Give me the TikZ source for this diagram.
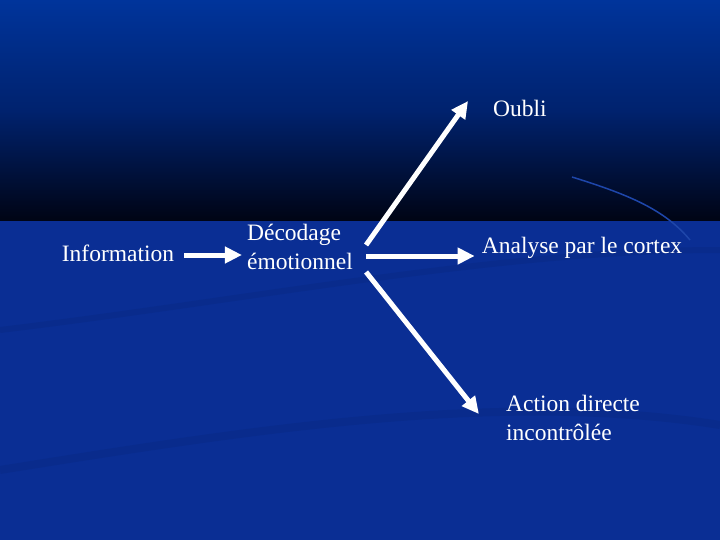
\documentclass[tikz,border=0pt]{standalone}
\usepackage{fontspec}
\setmainfont{Liberation Serif}
\usetikzlibrary{arrows.meta}
\definecolor{fondhaut}{RGB}{0,52,155}
\definecolor{fondmilieu}{RGB}{0,34,110}
\definecolor{fondnoir}{RGB}{0,4,20}
\definecolor{fondbas}{RGB}{10,46,148}
\definecolor{vague}{RGB}{30,70,170}
\tikzset{
  texte/.style={text=white, inner sep=0pt, font=\fontsize{23.5}{29}\selectfont},
  fleche/.style={draw=white, line width=5pt, -{Triangle[length=17pt,width=16pt]}}
}
\begin{document}
\begin{tikzpicture}[x=1pt, y=-1pt]
  \useasboundingbox (0,0) rectangle (720,540);
  % fond
  \shade[top color=fondhaut, bottom color=fondnoir, middle color=fondmilieu] (0,0) rectangle (720,221);
  \fill[fondbas] (0,221) rectangle (720,540);
  \draw[fondbas!85!black, line width=6pt, opacity=0.35] (0,330) .. controls (250,300) and (500,250) .. (720,250);
  \draw[fondbas!85!black, line width=8pt, opacity=0.35] (0,470) .. controls (250,430) and (500,390) .. (720,425);
  \draw[vague, line width=1.5pt] (572,177) .. controls (630,195) and (665,210) .. (690,240);

  % noeuds
  \node[texte] (info) at (118,253) {Information};
  \node[texte, align=left] (dec) at (300,247) {Décodage\\émotionnel};
  \node[texte] (oubli) at (520,108) {Oubli};
  \node[texte] (analyse) at (582,248) {Analyse par le cortex};
  \node[texte, align=left] (action) at (573,418) {Action directe\\incontrôlée};

  % fleches
  \draw[fleche] ([shift={(10,2)}]info.east) -- ([shift={(-5,8)}]dec.west);
  \draw[fleche] ([shift={(13,-2)}]dec.east) -- ([shift={(-25,-7)}]oubli.west);
  \draw[fleche] ([shift={(13,9)}]dec.east) -- ([shift={(-7,8)}]analyse.west);
  \draw[fleche] ([shift={(13,25)}]dec.east) -- ([shift={(-27,-4)}]action.west);
\end{tikzpicture}
\end{document}
